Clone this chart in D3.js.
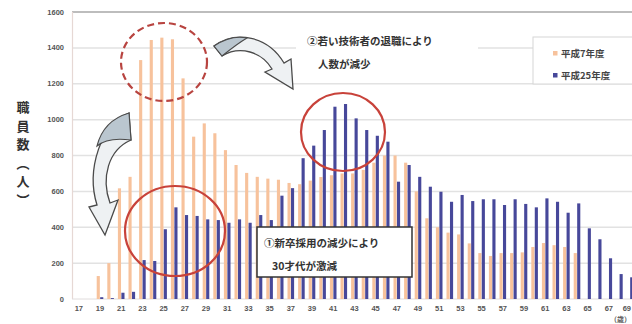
<!DOCTYPE html>
<html>
<head>
<meta charset="utf-8">
<script src="https://cdn.jsdelivr.net/npm/d3@7"></script>
<style>
  body { margin: 0; background: #fff; overflow: hidden; }
  svg { display: block; }
  .jp { font-family: "Noto Sans CJK JP", "Noto Sans", sans-serif; font-weight: bold; }
  .tick { font-family: "Liberation Sans", Arial, sans-serif; font-size: 7.5px; fill: #555; font-weight: bold; }
</style>
</head>
<body>
<div id="chart"></div>
<script>
// ages on the x axis (only odd ones get a label)
const ages = [17,18,19,20,21,22,23,24,25,26,27,28,29,30,31,32,33,34,35,36,37,38,39,40,41,42,43,
  44,45,46,47,48,49,50,51,52,53,54,55,56,57,58,59,60,61,62,63,64,65,66,67,68,69];
// 平成7年度 (orange)
const h7 = [0,0,128,200,617,681,1332,1444,1457,1448,1230,905,979,924,830,747,703,681,671,665,647,
  640,660,680,690,700,700,720,760,800,800,760,600,450,400,370,360,310,256,240,256,256,260,
  290,312,300,290,256,0,0,0,0,0];
// 平成25年度 (blue)
const h25 = [0,0,10,5,35,40,217,212,389,511,468,463,444,440,425,444,425,468,440,576,618,785,855,
  942,1072,1087,1007,942,910,877,654,747,681,626,598,542,580,546,556,556,524,556,530,511,561,
  542,481,533,394,333,227,139,121];
const yTicks = [0,200,400,600,800,1000,1200,1400,1600];
const seriesNames = ["平成7年度", "平成25年度"];
const seriesColors = ["#f7c29c", "#47489a"];

const W = 632, H = 324;
const svg = d3.select("#chart").append("svg").attr("width", W).attr("height", H);

const x = d3.scaleBand().domain(ages).range([73.5, 73.5 + ages.length * 10.6]);
const xs = d3.scaleBand().domain([0, 1]).range([-3.3, 3.3]).paddingInner(0.1);
const y = d3.scaleLinear().domain([0, 1600]).range([299, 12]);

// grid
svg.append("g").selectAll("line").data(yTicks.slice(1, -1)).join("line")
  .attr("x1", 72).attr("x2", W).attr("y1", d => y(d)).attr("y2", d => y(d))
  .attr("stroke", "#e2e2e2").attr("stroke-width", 1.5);
svg.append("line").attr("x1", 72).attr("x2", W).attr("y1", y(1600)).attr("y2", y(1600))
  .attr("stroke", "#bdbdbd").attr("stroke-width", 2);
svg.append("line").attr("x1", 72.5).attr("x2", 72.5).attr("y1", y(1600)).attr("y2", y(0))
  .attr("stroke", "#e6d8d4").attr("stroke-width", 1.2);
svg.append("line").attr("x1", 72).attr("x2", W).attr("y1", y(0)).attr("y2", y(0))
  .attr("stroke", "#e0dcdc").attr("stroke-width", 1);

// y tick labels
svg.append("g").selectAll("text").data(yTicks).join("text")
  .attr("class", "tick").attr("x", 64).attr("y", d => y(d) + 2.5)
  .attr("text-anchor", "end").text(d => d);

// x tick labels (the last one sits at the right edge)
const oddAges = ages.filter(a => a % 2 === 1);
const lastAge = oddAges[oddAges.length - 1];
svg.append("g").selectAll("text").data(oddAges).join("text")
  .attr("class", "tick")
  .attr("x", d => d === lastAge ? W - 1 : x(d) + x.bandwidth() / 2)
  .attr("y", 311)
  .attr("text-anchor", d => d === lastAge ? "end" : "middle")
  .text(d => d);

// bars
[h7, h25].forEach((vals, si) => {
  svg.append("g").selectAll("rect").data(ages.map((a, i) => ({a, v: vals[i]}))).join("rect")
    .attr("x", d => x(d.a) + x.bandwidth() / 2 + xs(si))
    .attr("width", xs.bandwidth())
    .attr("y", d => y(d.v))
    .attr("height", d => y(0) - y(d.v))
    .attr("fill", seriesColors[si]);
});

// y axis title, stacked vertically
const title = ["職", "員", "数", "︵", "人", "︶"];
svg.append("g").selectAll("text").data(title).join("text")
  .attr("class", "jp").attr("x", 23).attr("y", (d, i) => 112 + i * 18.5)
  .attr("text-anchor", "middle").attr("font-size", 13).attr("fill", "#333").text(d => d);

// legend
const lg = svg.append("g");
lg.append("rect").attr("x", 533).attr("y", 37).attr("width", 110).attr("height", 47)
  .attr("fill", "#fff").attr("stroke", "#d6d6d6");
seriesNames.forEach((n, i) => {
  lg.append("rect").attr("x", 553).attr("y", 51 + i * 22).attr("width", 4.5).attr("height", 4.5)
    .attr("fill", seriesColors[i]);
  lg.append("text").attr("class", "jp").attr("x", 561).attr("y", 57 + i * 22)
    .attr("font-size", 9.5).attr("fill", "#444").text(n);
});

// red circles
svg.append("ellipse").attr("cx", 164).attr("cy", 62).attr("rx", 43).attr("ry", 39)
  .attr("fill", "none").attr("stroke", "#b84440").attr("stroke-width", 2.2)
  .attr("stroke-dasharray", "7,4");
svg.append("ellipse").attr("cx", 175).attr("cy", 231).attr("rx", 50).attr("ry", 45)
  .attr("fill", "none").attr("stroke", "#c8423a").attr("stroke-width", 2.2);
svg.append("ellipse").attr("cx", 343).attr("cy", 132).attr("rx", 42).attr("ry", 39)
  .attr("fill", "none").attr("stroke", "#c8423a").attr("stroke-width", 2.2);

// note ②
svg.append("rect").attr("x", 296).attr("y", 26).attr("width", 182).attr("height", 50).attr("fill", "#fff");
svg.append("text").attr("class", "jp").attr("x", 307).attr("y", 45).attr("font-size", 10.5)
  .attr("fill", "#333").text("②若い技術者の退職により");
svg.append("text").attr("class", "jp").attr("x", 318).attr("y", 68).attr("font-size", 10.5)
  .attr("fill", "#333").text("人数が減少");

// note ①
svg.append("rect").attr("x", 257).attr("y", 227).attr("width", 155).attr("height", 50)
  .attr("fill", "#fff").attr("stroke", "#333").attr("stroke-width", 1.5);
svg.append("text").attr("class", "jp").attr("x", 264).attr("y", 247).attr("font-size", 10.5)
  .attr("fill", "#333").text("①新卒採用の減少により");
svg.append("text").attr("class", "jp").attr("x", 272).attr("y", 270).attr("font-size", 10.5)
  .attr("fill", "#333").text("30才代が激減");

// curved arrows
const arrowBody = "#eef1f3", arrowTail = "#bac6cf", arrowLine = "#4a4a4a";
svg.append("path")
  .attr("d", "M214,46 C236,30 268,36 284,63 L291,59 L293,89 L265,72 L272,69 C262,52 240,45 222,56 Z")
  .attr("fill", arrowBody).attr("stroke", arrowLine).attr("stroke-width", 1.3);
svg.append("path")
  .attr("d", "M214,46 C226,38 238,36 247,38 C240,42 232,48 222,56 Z")
  .attr("fill", arrowTail).attr("stroke", arrowLine).attr("stroke-width", 1.1);
svg.append("path")
  .attr("d", "M129,113 C101,123 86,170 97,205 L89,207 L105,235 L118,200 L110,203 C101,178 108,150 131,140 Z")
  .attr("fill", arrowBody).attr("stroke", arrowLine).attr("stroke-width", 1.3);
svg.append("path")
  .attr("d", "M129,113 C112,118 101,130 97,146 C104,140 116,138 131,140 Z")
  .attr("fill", arrowTail).attr("stroke", arrowLine).attr("stroke-width", 1.1);

// unit label in the bottom right corner
svg.append("text").attr("class", "jp").attr("x", W - 1).attr("y", 322).attr("font-size", 7)
  .attr("text-anchor", "end").attr("fill", "#555").text("（歳）");
</script>
</body>
</html>
